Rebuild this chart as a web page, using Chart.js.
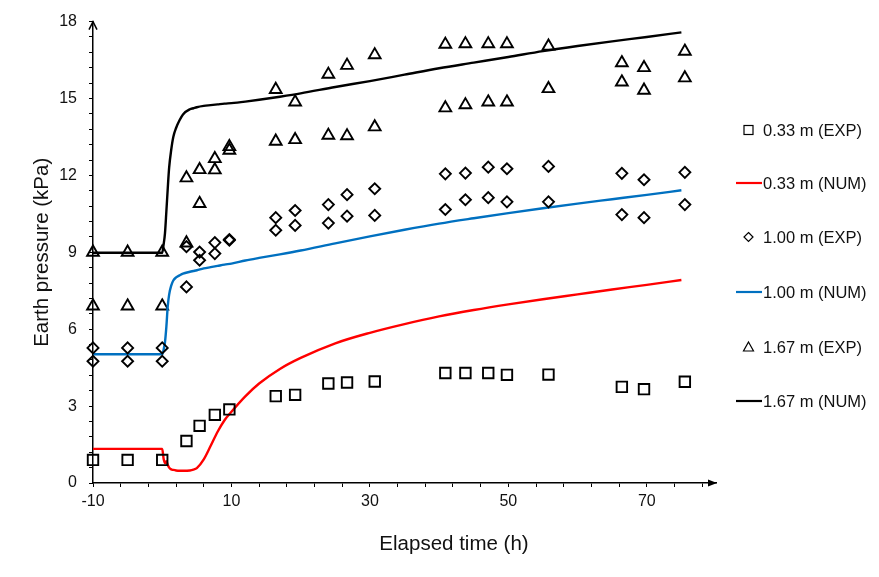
<!DOCTYPE html>
<html>
<head>
<meta charset="utf-8">
<script src="https://cdn.jsdelivr.net/npm/chart.js@4/dist/chart.umd.min.js"></script>
<style>
  html, body { margin: 0; padding: 0; background: #fff; }
  #wrap { position: relative; width: 879px; height: 577px; font-family: 'Liberation Sans', Arial, sans-serif; color: #111; }
  #wrap canvas { position: absolute; left: 0; top: 0; }
  .lg { position: absolute; left: 735px; height: 16px; display: flex; align-items: center; font-size: 16.5px; line-height: 16px; white-space: nowrap; }
  .lg svg { width: 27px; height: 16px; flex: none; margin-right: 1px; }
  #xtitle { position: absolute; left: 354px; width: 200px; top: 533px; text-align: center; font-size: 20.5px; line-height: 20px; }
</style>
</head>
<body>
<div id="wrap">
  <canvas id="chart" width="879" height="577"></canvas>
  <div id="legend"></div>
  <div id="xtitle">Elapsed time (h)</div>
</div>
<script>
// ── Data ─────────────────────────────────────────────────────
const expTime = [-10, -5, 0, 3.5, 5.4, 7.6, 9.7, 16.4, 19.2, 24.0, 26.7, 30.7, 40.9, 43.8, 47.1, 49.8, 55.8, 66.4, 69.6, 75.5];

// 0.33 m, measured
const exp033 = [0.9, 0.9, 0.9, 1.64, 2.23, 2.66, 2.87, 3.39, 3.44, 3.88, 3.92, 3.96, 4.29, 4.29, 4.29, 4.22, 4.23, 3.75, 3.66, 3.95];

// 1.00 m, measured (two gauges)
const exp100a = [5.27, 5.27, 5.27, 9.22, 9.01, 9.38, 9.5, 10.35, 10.63, 10.86, 11.25, 11.48, 12.06, 12.09, 12.32, 12.26, 12.35, 12.08, 11.83, 12.12];
const exp100b = [4.75, 4.75, 4.75, 7.65, 8.69, 8.95, 9.47, 9.86, 10.05, 10.14, 10.41, 10.44, 10.67, 11.05, 11.13, 10.97, 10.97, 10.47, 10.35, 10.86];

// 1.67 m, measured (two gauges)
const exp167a = [9.0, 9.0, 9.0, 11.9, 12.22, 12.65, 13.12, 15.35, 14.86, 15.94, 16.29, 16.7, 17.11, 17.13, 17.13, 17.13, 17.04, 16.39, 16.2, 16.84];
const exp167b = [6.9, 6.9, 6.9, 9.36, 10.9, 12.21, 12.98, 13.33, 13.39, 13.56, 13.54, 13.89, 14.63, 14.75, 14.86, 14.86, 15.38, 15.64, 15.32, 15.8];

// numerical curves
const numTime = [-10, 0, 0.2, 0.4, 0.6, 0.8, 1.0, 1.3, 1.6, 2.0, 2.5, 3.0, 4.0, 4.5, 5.0, 6.0, 7.0, 8.0, 9.0, 10, 12, 14, 17, 20, 25, 30, 35, 40, 45, 50, 55, 60, 65, 70, 75];
const num033 = [1.33, 1.33, 0.95, 0.78, 0.85, 0.7, 0.6, 0.53, 0.51, 0.49, 0.48, 0.48, 0.49, 0.52, 0.58, 0.92, 1.45, 2.0, 2.45, 2.78, 3.38, 3.88, 4.45, 4.88, 5.45, 5.86, 6.2, 6.5, 6.75, 6.97, 7.17, 7.36, 7.55, 7.73, 7.92];
const num100 = [5.02, 5.02, 5.2, 5.5, 6.1, 6.9, 7.35, 7.7, 7.9, 8.02, 8.1, 8.17, 8.24, 8.27, 8.3, 8.37, 8.42, 8.47, 8.52, 8.56, 8.68, 8.78, 8.92, 9.07, 9.35, 9.62, 9.88, 10.12, 10.33, 10.53, 10.72, 10.9, 11.07, 11.24, 11.42];
const num167 = [8.98, 8.98, 9.3, 9.75, 10.6, 11.5, 12.3, 13.0, 13.5, 13.85, 14.15, 14.38, 14.58, 14.62, 14.66, 14.71, 14.74, 14.77, 14.8, 14.82, 14.88, 14.95, 15.07, 15.2, 15.45, 15.68, 15.93, 16.18, 16.4, 16.62, 16.85, 17.05, 17.23, 17.4, 17.58];

const xTickLabels = [-10, 10, 30, 50, 70];
const yTickLabels = [0, 3, 6, 9, 12, 15, 18];

const legendLabels = ['0.33 m (EXP)', '0.33 m (NUM)', '1.00 m (EXP)', '1.00 m (NUM)', '1.67 m (EXP)', '1.67 m (NUM)'];

// ── Helpers ──────────────────────────────────────────────────
const pts = (xs, ys) => xs.map((x, i) => ({ x, y: ys[i] }));

Chart.defaults.font.family = "'Liberation Sans', Arial, sans-serif";
Chart.defaults.color = '#111';

const expStyle = (pointStyle, radius) => ({
  type: 'scatter',
  pointStyle,
  pointRadius: radius,
  pointHoverRadius: radius,
  pointBorderColor: '#000',
  pointBackgroundColor: 'rgba(0,0,0,0)',
  pointBorderWidth: 1.9,
  showLine: false,
  clip: false,
});

const numStyle = (color) => ({
  type: 'line',
  borderColor: color,
  borderWidth: 2.4,
  pointRadius: 0,
  fill: false,
  cubicInterpolationMode: 'monotone',
  clip: false,
});

// arrows at the end of the axes
const axisArrows = {
  id: 'axisArrows',
  afterDraw(chart) {
    const { ctx, chartArea: a } = chart;
    ctx.save();
    ctx.strokeStyle = '#000';
    ctx.fillStyle = '#000';
    ctx.lineWidth = 1.5;
    ctx.beginPath();
    ctx.moveTo(a.left - 4, a.top + 8);
    ctx.lineTo(a.left, a.top);
    ctx.lineTo(a.left + 4, a.top + 8);
    ctx.stroke();
    ctx.beginPath();
    ctx.moveTo(a.right + 1, a.bottom);
    ctx.lineTo(a.right - 8, a.bottom - 3.5);
    ctx.lineTo(a.right - 8, a.bottom + 3.5);
    ctx.closePath();
    ctx.fill();
    ctx.restore();
  }
};

new Chart(document.getElementById('chart'), {
  data: {
    datasets: [
      { label: legendLabels[0], data: pts(expTime, exp033), ...expStyle('rect', 7.4) },
      { label: legendLabels[1], data: pts(numTime, num033), ...numStyle('#ff0000') },
      { label: legendLabels[2], data: pts(expTime, exp100a).concat(pts(expTime, exp100b)), ...expStyle('rectRot', 5.5) },
      { label: legendLabels[3], data: pts(numTime, num100), ...numStyle('#0070c0') },
      { label: legendLabels[4], data: pts(expTime, exp167a).concat(pts(expTime, exp167b)), ...expStyle('triangle', 6.8) },
      { label: legendLabels[5], data: pts(numTime, num167), ...numStyle('#000000') },
    ],
  },
  options: {
    responsive: false,
    animation: false,
    layout: { padding: { top: 21, right: 163, left: 0, bottom: 0 } },
    plugins: { legend: { display: false }, tooltip: { enabled: false } },
    scales: {
      x: {
        type: 'linear',
        min: -10,
        max: 80,
        afterBuildTicks: (s) => {
          const t = [];
          for (let v = -10; v <= 78; v += 4) t.push({ value: v });
          s.ticks = t;
        },
        afterFit: (s) => { s.height = 94; },
        grid: { display: true, drawOnChartArea: false, drawTicks: true, tickLength: 4, color: '#000', lineWidth: 1 },
        border: { display: true, color: '#000', width: 1.5 },
        ticks: {
          autoSkip: false, maxRotation: 0, padding: 5,
          font: { size: 16 }, color: '#111',
          callback: (v) => (xTickLabels.includes(v) ? String(v) : ''),
        },
      },
      y: {
        type: 'linear',
        min: 0,
        max: 18,
        afterBuildTicks: (s) => {
          const t = [];
          for (let i = 0; i <= 30; i++) t.push({ value: Math.round(i * 6) / 10 });
          s.ticks = t;
        },
        afterFit: (s) => { s.width = 93; },
        grid: { display: true, drawOnChartArea: false, drawTicks: true, tickLength: 4, color: '#000', lineWidth: 1 },
        border: { display: true, color: '#000', width: 1.5 },
        ticks: {
          autoSkip: false, padding: 12,
          font: { size: 16 }, color: '#111',
          callback: (v) => (yTickLabels.includes(v) ? String(v) : ''),
        },
        title: {
          display: true,
          text: 'Earth pressure (kPa)',
          color: '#111',
          font: { size: 20.5 },
          padding: { top: 30, bottom: 0 },
        },
      },
    },
  },
  plugins: [axisArrows],
});

// ── HTML legend ──────────────────────────────────────────────
const legendMarks = [
  '<rect x="9" y="3.5" width="9" height="9" fill="none" stroke="#000" stroke-width="1.2"/>',
  '<line x1="1" y1="8" x2="27" y2="8" stroke="#ff0000" stroke-width="2.2"/>',
  '<polygon points="13.5,3.5 18,8 13.5,12.5 9,8" fill="none" stroke="#000" stroke-width="1.2"/>',
  '<line x1="1" y1="8" x2="27" y2="8" stroke="#0070c0" stroke-width="2.2"/>',
  '<polygon points="13.5,3 18.5,12 8.5,12" fill="none" stroke="#000" stroke-width="1.2"/>',
  '<line x1="1" y1="8" x2="27" y2="8" stroke="#000" stroke-width="2.2"/>',
];
const legendY = [129.5, 183, 237, 291.5, 346.5, 401];
const lg = document.getElementById('legend');
legendLabels.forEach((name, i) => {
  const d = document.createElement('div');
  d.className = 'lg';
  d.style.top = (legendY[i] - 8) + 'px';
  d.innerHTML = '<svg viewBox="0 0 27 16">' + legendMarks[i] + '</svg><span>' + name + '</span>';
  lg.appendChild(d);
});
</script>
</body>
</html>
